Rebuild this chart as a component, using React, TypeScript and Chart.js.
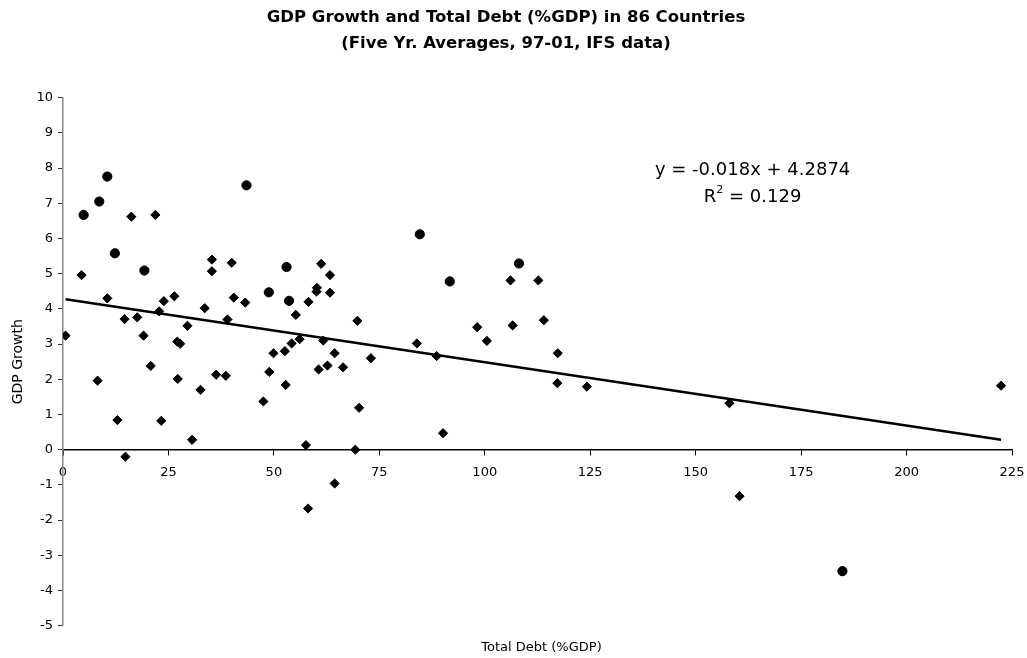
import { useEffect, useRef } from "react";
import { Chart, registerables } from "chart.js";

Chart.register(...registerables);

const FONT = '"DejaVu Sans", "Liberation Sans", sans-serif';

const titleLines = [
  "GDP Growth and Total Debt (%GDP) in 86 Countries",
  "(Five Yr. Averages, 97-01, IFS data)",
];
const xAxisLabel = "Total Debt (%GDP)";
const yAxisLabel = "GDP Growth";

// Countries drawn with diamond markers: total debt (% of GDP) and GDP growth (%)
const diamondDebt = [
  0.6, 4.4, 8.2, 10.5, 12.9, 14.6, 14.8, 16.2, 17.6, 19.1,
  20.8, 21.9, 22.8, 23.3, 23.9, 26.4, 27.1, 27.8, 27.2, 29.5,
  30.6, 32.6, 33.6, 35.3, 35.3, 36.3, 38.6, 39.0, 40.0, 40.5,
  43.2, 47.5, 48.9, 49.9, 52.6, 52.8, 54.2, 55.2, 56.1, 57.6,
  58.1, 58.2, 60.2, 60.1, 60.6, 61.2, 61.7, 62.7, 63.3, 63.3,
  64.4, 64.4, 66.4, 69.3, 69.8, 70.2, 73.0, 83.9, 88.6, 90.1,
  98.2, 100.5, 106.1, 106.6, 112.7, 114.0, 117.3, 117.2, 124.2, 158.0,
  160.4, 222.4,
];
const diamondGrowth = [
  3.24, 4.96, 1.96, 4.30, 0.84, 3.71, -0.20, 6.62, 3.76, 3.24,
  2.38, 6.67, 3.93, 0.82, 4.22, 4.36, 3.07, 3.01, 2.01, 3.52,
  0.28, 1.70, 4.02, 5.40, 5.07, 2.13, 2.10, 3.70, 5.31, 4.32,
  4.18, 1.37, 2.21, 2.74, 2.80, 1.84, 3.02, 3.83, 3.14, 0.13,
  -1.67, 4.20, 4.60, 4.49, 2.28, 5.28, 3.10, 2.39, 4.96, 4.46,
  2.74, -0.96, 2.34, 0.00, 3.66, 1.19, 2.60, 3.02, 2.66, 0.47,
  3.48, 3.09, 4.81, 3.53, 4.81, 3.68, 2.74, 1.89, 1.79, 1.32,
  -1.32, 1.82,
];

// Countries drawn with round markers
const circleDebt = [4.9, 8.6, 10.5, 12.3, 19.3, 43.5, 48.8, 53.0, 53.6, 84.6, 91.7, 108.1, 184.8];
const circleGrowth = [6.67, 7.05, 7.76, 5.58, 5.09, 7.51, 4.47, 5.19, 4.23, 6.12, 4.78, 5.29, -3.45];

// Linear trend fitted over all countries
const trendSlope = -0.018;
const trendIntercept = 4.2874;
const rSquared = 0.129;

const xMin = 0;
const xMax = 225;
const xStep = 25;
const yMin = -5;
const yMax = 10;
const yStep = 1;

const allDebt = diamondDebt.concat(circleDebt);
const trendStart = Math.min(...allDebt);
const trendEnd = Math.max(...allDebt);

const equationText = `y = ${trendSlope}x + ${trendIntercept}`;
const rSquaredValue = ` = ${rSquared}`;

const toPoints = (xs: number[], ys: number[]) => xs.map((x, i) => ({ x, y: ys[i] }));

const textOverlay = {
  id: "textOverlay",
  afterDraw(chart: any) {
    const { ctx, chartArea, scales } = chart;
    ctx.save();
    ctx.fillStyle = "#000";
    ctx.textBaseline = "middle";

    // x axis title below the plot
    ctx.font = `13px ${FONT}`;
    ctx.textAlign = "center";
    ctx.fillText(xAxisLabel, (chartArea.left + chartArea.right) / 2 + 4, chartArea.bottom + 22);

    // trend line equation
    const cx = scales.x.getPixelForValue(163.5);
    ctx.font = `18px ${FONT}`;
    ctx.fillText(equationText, cx, scales.y.getPixelForValue(7.95));

    // R squared with superscript
    const y2 = scales.y.getPixelForValue(7.17);
    ctx.font = `18px ${FONT}`;
    const wR = ctx.measureText("R").width;
    const wVal = ctx.measureText(rSquaredValue).width;
    ctx.font = `11px ${FONT}`;
    const wSup = ctx.measureText("2").width;
    let x = cx - (wR + wSup + wVal) / 2;
    ctx.textAlign = "left";
    ctx.font = `18px ${FONT}`;
    ctx.fillText("R", x, y2);
    x += wR;
    ctx.font = `11px ${FONT}`;
    ctx.fillText("2", x, y2 - 7);
    x += wSup;
    ctx.font = `18px ${FONT}`;
    ctx.fillText(rSquaredValue, x, y2);
    ctx.restore();
  },
};

export default function App() {
  const canvasRef = useRef<HTMLCanvasElement | null>(null);

  useEffect(() => {
    document.body.style.margin = "0";
    const canvas = canvasRef.current;
    if (!canvas) return;

    const chart = new Chart(canvas, {
      type: "scatter",
      data: {
        datasets: [
          {
            label: "Debt vs growth",
            data: toPoints(diamondDebt, diamondGrowth),
            pointStyle: "rectRot",
            pointRadius: 4.6,
            pointBackgroundColor: "#000",
            pointBorderColor: "#000",
            pointBorderWidth: 1,
            order: 2,
          },
          {
            label: "Debt vs growth (highlighted)",
            data: toPoints(circleDebt, circleGrowth),
            pointStyle: "circle",
            pointRadius: 4.6,
            pointBackgroundColor: "#000",
            pointBorderColor: "#000",
            pointBorderWidth: 1,
            order: 2,
          },
          {
            type: "line",
            label: "Linear trend",
            data: [
              { x: trendStart, y: trendSlope * trendStart + trendIntercept },
              { x: trendEnd, y: trendSlope * trendEnd + trendIntercept },
            ],
            borderColor: "#000",
            borderWidth: 2.6,
            pointRadius: 0,
            fill: false,
            order: 1,
          } as any,
        ],
      },
      options: {
        responsive: false,
        animation: false,
        layout: { padding: { left: 0, right: 15, top: 0, bottom: 32.3 } },
        plugins: {
          legend: { display: false },
          tooltip: { enabled: false },
          title: {
            display: true,
            text: titleLines,
            color: "#000",
            font: { family: FONT, size: 16.5, weight: "bold", lineHeight: 26 / 16.5 },
            padding: { top: 5, bottom: 40.7 },
          },
        },
        scales: {
          x: {
            type: "linear",
            position: { y: 0 } as any,
            min: xMin,
            max: xMax,
            ticks: {
              stepSize: xStep,
              color: "#000",
              padding: 10,
              font: { family: FONT, size: 13 },
            },
            grid: { drawOnChartArea: false, drawTicks: true, tickLength: 5, color: "#000", lineWidth: 1 },
            border: { display: true, color: "#000", width: 1.5 },
            afterFit: (scale: any) => {
              scale.height = 0;
              scale.paddingLeft = 0;
              scale.paddingRight = 0;
            },
          },
          y: {
            type: "linear",
            position: "left",
            min: yMin,
            max: yMax,
            ticks: {
              stepSize: yStep,
              color: "#000",
              padding: 5,
              font: { family: FONT, size: 13 },
            },
            grid: { drawOnChartArea: false, drawTicks: true, tickLength: 5, color: "#333", lineWidth: 1 },
            border: { display: true, color: "#888", width: 1.5 },
            title: {
              display: true,
              text: yAxisLabel,
              color: "#000",
              font: { family: FONT, size: 14 },
              padding: { top: 9.6, bottom: 0 },
            },
            afterFit: (scale: any) => {
              scale.width = 63;
              scale.paddingTop = 0;
              scale.paddingBottom = 0;
            },
          },
        },
      },
      plugins: [textOverlay],
    });

    return () => chart.destroy();
  }, []);

  return (
    <div style={{ width: 1027, height: 658, background: "#fff" }}>
      <canvas ref={canvasRef} width={1027} height={658} style={{ display: "block" }} />
    </div>
  );
}
